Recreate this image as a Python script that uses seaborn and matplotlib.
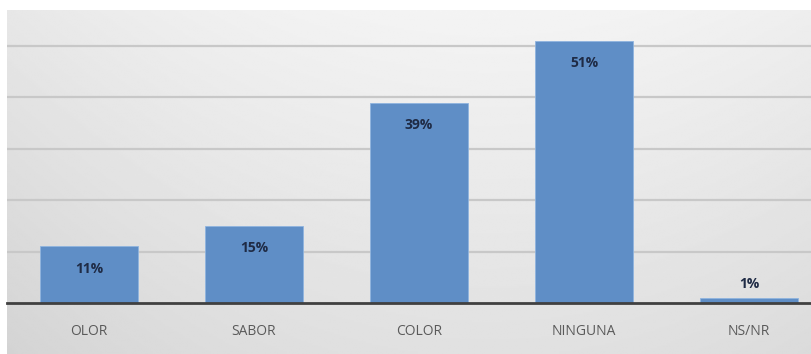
import numpy as np
import pandas as pd
import matplotlib
matplotlib.use("Agg")
import matplotlib.pyplot as plt
import seaborn as sns

categories = ["OLOR", "SABOR", "COLOR", "NINGUNA", "NS/NR"]
values = [11, 15, 39, 51, 1]
labels = ["11%", "15%", "39%", "51%", "1%"]

sns.set_theme(style="white")
plt.rcParams["font.family"] = ["Open Sans", "DejaVu Sans"]

W, H = 811, 354
fig = plt.figure(figsize=(W / 100, H / 100), dpi=100, facecolor="white")

# soft gray gradient behind the chart
bg = fig.add_axes([7 / W, 0, 1 - 7 / W, 1 - 10 / H])
gx = np.linspace(0, 1, 400)
gy = np.linspace(0, 1, 200)
X, Y = np.meshgrid(gx, gy)
shade = 0.955 - 0.05 * ((X - 0.6) / 0.6) ** 2 - 0.075 * Y
bg.imshow(shade, cmap="gray", vmin=0, vmax=1, aspect="auto",
          extent=[0, 1, 1, 0], interpolation="bilinear")
bg.set_axis_off()

base_px = 303
px_per_unit = 5.14
ymax = 56.5
ax = fig.add_axes([6.5 / W, (H - base_px) / H, 825 / W, ymax * px_per_unit / H])
ax.patch.set_alpha(0)

df = pd.DataFrame({"cat": categories, "val": values})
sns.barplot(data=df, x="cat", y="val", color="#5F8EC6", saturation=1,
            width=0.594, ax=ax, edgecolor="#8fb4df", linewidth=0.6)

ax.set_ylim(0, ymax)
ax.set_xlim(-0.5, 4.5)
ax.set_yticks([10, 20, 30, 40, 50])
ax.yaxis.grid(True, color="#c8c8c8", linewidth=1.6)
ax.set_axisbelow(True)
ax.set_yticklabels([])
ax.tick_params(axis="y", length=0)
ax.tick_params(axis="x", length=0, pad=15, labelsize=10, labelcolor="#5a5a5a")
ax.set_xlabel("")
ax.set_ylabel("")
for side in ["left", "right", "top"]:
    ax.spines[side].set_visible(False)
ax.spines["bottom"].set_color("#404040")
ax.spines["bottom"].set_linewidth(2)

for i, (v, lab) in enumerate(zip(values, labels)):
    if v > 5:
        off = -16
    else:
        off = 10
    ax.annotate(lab, (i, v), xytext=(0, off), textcoords="offset points",
                ha="center", va="center", fontsize=10, fontweight="bold",
                color="#1f2b45")

fig.savefig("out.png", dpi=100, facecolor="white")
